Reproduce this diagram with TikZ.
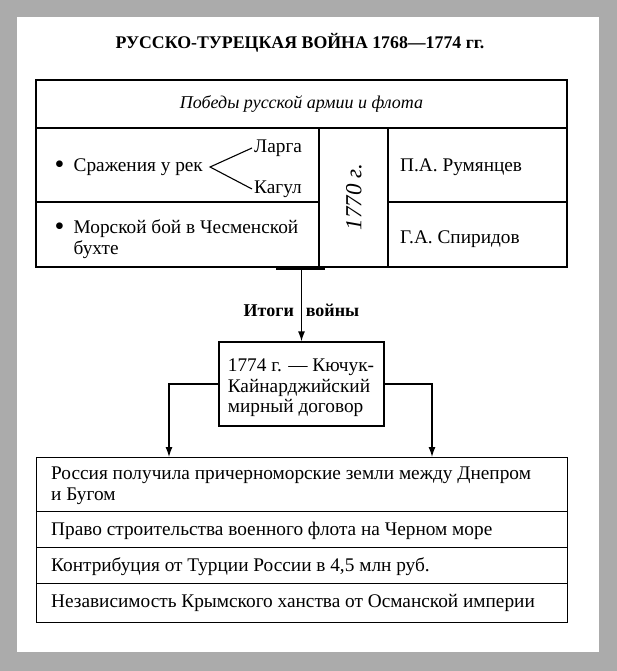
\documentclass[tikz,border=0pt]{standalone}
\usepackage{fontspec}
\setmainfont{Liberation Serif}
\usetikzlibrary{arrows.meta,positioning}

\newcommand\itembullet{\makebox[19pt][l]{\raisebox{-2pt}{\scalebox{1.45}{\textbullet}}}}

\tikzset{
  cell/.style={draw, line width=1.3pt, inner sep=0pt},
  txt/.style={inner sep=2pt, font=\fontsize{19.3}{20.5}\selectfont},
  link/.style={line width=1.3pt, -{Latex[length=10pt,width=7pt]}},
}

\begin{document}
\begin{tikzpicture}[x=1pt,y=-1pt]
  \fill[black!33] (0,0) rectangle (617,671); % grey frame
  \fill[white] (17,17) rectangle (599,652);
  \useasboundingbox (0,0) rectangle (617,671);

  \node[font=\bfseries\fontsize{17.8}{20}\selectfont] (title) at (300,43)
    {РУССКО-ТУРЕЦКАЯ ВОЙНА 1768—1774 гг.};

  % upper table
  \node[cell, minimum width=531, minimum height=48] (head) at (301.5,104) {};
  \node[txt, font=\itshape\fontsize{18}{20.5}\selectfont] at (head) {Победы русской армии и флота};
  \node[cell, minimum width=283, minimum height=74] (land) at (177.5,165) {};
  \node[cell, minimum width=283, minimum height=65] (sea) at (177.5,234.5) {};
  \node[cell, minimum width=69, minimum height=139] (yearcell) at (353.5,197.5) {};
  \node[cell, minimum width=179, minimum height=74] (rum) at (477.5,165) {};
  \node[cell, minimum width=179, minimum height=65] (spir) at (477.5,234.5) {};

  \node[txt, anchor=west] (rivers) at (52.5,167) {\itembullet Сражения у рек};
  \node[txt, anchor=west] (larga) at (252,148) {Ларга};
  \node[txt, anchor=west] (kagul) at (252,189) {Кагул};
  \coordinate (fork) at ([xshift=5pt]rivers.east);
  \draw[line width=1.1pt] (larga.west) -- (fork) -- (kagul.west);
  \node[txt, anchor=west, align=left] (chesma) at (52.5,239)
    {\itembullet Морской бой в Чесменской\\\hspace{19pt}бухте};
  \node[txt, rotate=90, font=\itshape\fontsize{23}{24}\selectfont] (year) at (354,197) {1770 г.};
  \node[txt, anchor=west] at (398,167) {П.А. Румянцев};
  \node[txt, anchor=west] at (398,239) {Г.А. Спиридов};

  \draw[line width=3pt] (276,268.5) -- (325,268.5);
  \coordinate (bar) at (301.5,268);

  % treaty
  \node[cell, minimum width=165, minimum height=84] (treaty) at (301.5,384) {};
  \node[txt, align=left] at (301,388) {1774 г. — Кючук-\\Кайнарджийский\\мирный договор};
  \draw[link] (bar) -- node[txt, pos=0.58, font=\bfseries\fontsize{18}{20.5}\selectfont] (outcome)
    {Итоги\hspace{12pt}войны} (treaty.north);

  % results
  \foreach \i/\y/\h/\yt/\txt in {
      1/457/54/486/{Россия получила причерноморские земли между Днепром\\и Бугом},
      2/511/36/531/{Право строительства военного флота на Черном море},
      3/547/36/567/{Контрибуция от Турции России в 4,5 млн руб.},
      4/583/39/603/{Независимость Крымского ханства от Османской империи}} {
    \node[cell, anchor=north west, minimum width=531, minimum height=\h] (res\i) at (36,\y) {};
    \node[txt, anchor=west, align=left] at (49,\yt) {\txt};
  }

  \coordinate (lt) at (169,457);
  \coordinate (rt) at (432,457);
  \draw[link] (treaty.west) -| (lt);
  \draw[link] (treaty.east) -| (rt);
\end{tikzpicture}
\end{document}
